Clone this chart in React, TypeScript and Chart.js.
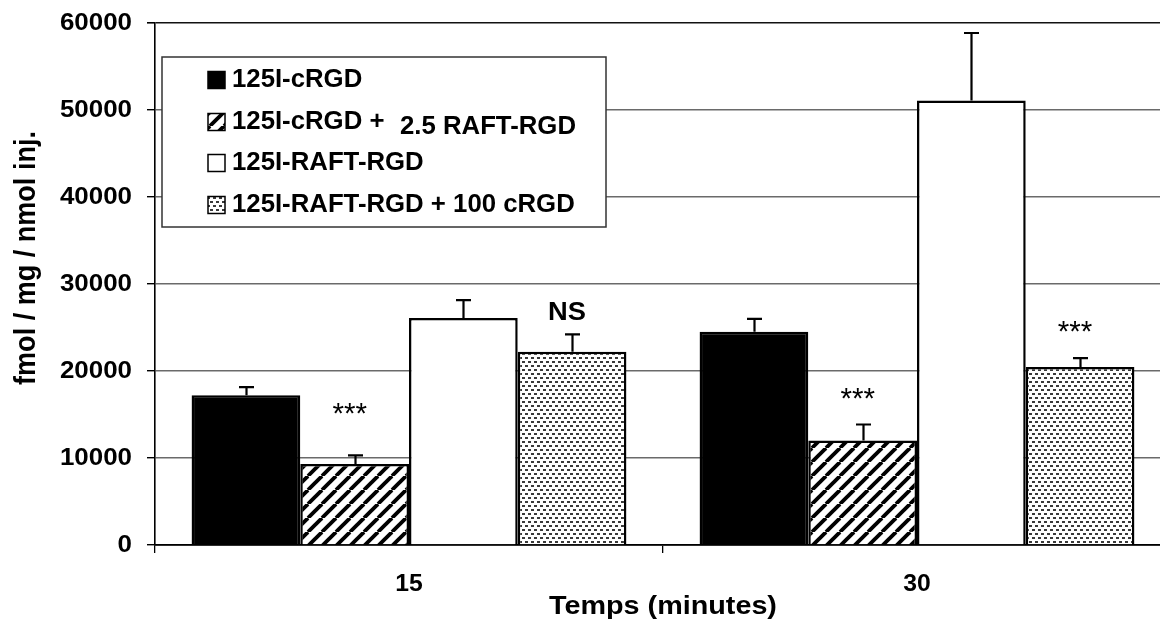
import React, { useEffect, useRef } from "react";
import { Chart, registerables } from "chart.js";

Chart.register(...registerables);

// ---------- data ----------
const CATEGORIES = ["15", "30"];
const SERIES_LABELS = [
  "125I-cRGD",
  "125I-cRGD + 2.5 RAFT-RGD",
  "125I-RAFT-RGD",
  "125I-RAFT-RGD + 100 cRGD",
];
const CRGD = [17200, 24500];
const CRGD_ERR = [950, 1500];
const CRGD_RAFT = [9300, 12000];
const CRGD_RAFT_ERR = [1000, 1850];
const RAFT = [26100, 51100];
const RAFT_ERR = [2050, 7750];
const RAFT_CRGD = [22200, 20450];
const RAFT_CRGD_ERR = [2000, 1030];
const Y_TICKS = [0, 10000, 20000, 30000, 40000, 50000, 60000];
const X_TITLE = "Temps (minutes)";
const Y_TITLE = "fmol / mg / nmol inj.";
const ANNOT_CAT = [0, 0, 1, 1];
const ANNOT_SERIES = [1, 3, 1, 3];
const ANNOT_TEXT = ["***", "NS", "***", "***"];
const ANNOT_AT = [14900, 26700, 16700, 24400];

const FONT = '"Liberation Sans", Arial, sans-serif';

function makeHatch(): CanvasPattern | string {
  const s = 14;
  const c = document.createElement("canvas");
  c.width = s;
  c.height = s;
  const g = c.getContext("2d");
  if (!g) return "#888";
  g.fillStyle = "#fff";
  g.fillRect(0, 0, s, s);
  g.strokeStyle = "#000";
  g.lineWidth = 3.8;
  for (const k of [-s, 0, s]) {
    g.beginPath();
    g.moveTo(k, s);
    g.lineTo(k + s, 0);
    g.stroke();
  }
  return g.createPattern(c, "repeat") || "#888";
}

function makeDots(): CanvasPattern | string {
  const w = 6;
  const h = 8;
  const c = document.createElement("canvas");
  c.width = w;
  c.height = h;
  const g = c.getContext("2d");
  if (!g) return "#bbb";
  g.fillStyle = "#fff";
  g.fillRect(0, 0, w, h);
  g.fillStyle = "#3a3a3a";
  g.fillRect(0, 1, 3, 2);
  g.fillRect(3, 5, 3, 2);
  return g.createPattern(c, "repeat") || "#bbb";
}

function drawText(
  ctx: CanvasRenderingContext2D,
  text: string,
  x: number,
  y: number,
  font: string,
  align: CanvasTextAlign,
  sx: number,
  sy = 1,
  rot = 0
) {
  ctx.save();
  ctx.translate(x, y);
  if (rot) ctx.rotate(rot);
  ctx.scale(sx, sy);
  ctx.font = font;
  ctx.textAlign = align;
  ctx.textBaseline = "middle";
  ctx.fillStyle = "#000";
  ctx.fillText(text, 0, 0);
  ctx.restore();
}

export default function App() {
  const ref = useRef<HTMLCanvasElement | null>(null);

  useEffect(() => {
    const canvas = ref.current;
    if (!canvas) return;
    const hatch = makeHatch();
    const dots = makeDots();
    const fills = ["#000", hatch, "#fff", dots];
    const values = [CRGD, CRGD_RAFT, RAFT, RAFT_CRGD];
    const errs = [CRGD_ERR, CRGD_RAFT_ERR, RAFT_ERR, RAFT_CRGD_ERR];

    const errorBars = {
      id: "errorBars",
      afterDatasetsDraw(chart: any) {
        const ctx = chart.ctx as CanvasRenderingContext2D;
        const ys = chart.scales.y;
        ctx.save();
        ctx.strokeStyle = "#000";
        ctx.lineWidth = 2.2;
        chart.data.datasets.forEach((ds: any, i: number) => {
          const meta = chart.getDatasetMeta(i);
          meta.data.forEach((bar: any, j: number) => {
            const top = ys.getPixelForValue(ds.data[j] + ds.errors[j]);
            const x = Math.round(bar.x) + 0.5;
            ctx.beginPath();
            ctx.moveTo(x, bar.y);
            ctx.lineTo(x, top);
            ctx.moveTo(x - 7.5, top);
            ctx.lineTo(x + 7.5, top);
            ctx.stroke();
          });
        });
        ctx.restore();
      },
    };

    const texts = {
      id: "texts",
      afterDraw(chart: any) {
        const ctx = chart.ctx as CanvasRenderingContext2D;
        const xs = chart.scales.x;
        const ys = chart.scales.y;
        // y tick labels
        Y_TICKS.forEach((v) => {
          drawText(ctx, String(v), 132, ys.getPixelForValue(v), `bold 24px ${FONT}`, "right", 1.08);
        });
        // x tick labels
        CATEGORIES.forEach((c, i) => {
          drawText(ctx, c, xs.getPixelForValue(i), 584, `bold 24px ${FONT}`, "center", 1.03);
        });
        // axis titles
        drawText(ctx, X_TITLE, (xs.left + xs.right) / 2, 607, `bold 25px ${FONT}`, "center", 1.15);
        drawText(ctx, Y_TITLE, 27, 258, `bold 26px ${FONT}`, "center", 1.04, 1.1, -Math.PI / 2);

        // annotations
        ANNOT_TEXT.forEach((t, k) => {
          const bar = chart.getDatasetMeta(ANNOT_SERIES[k]).data[ANNOT_CAT[k]];
          const bold = t === "NS";
          drawText(
            ctx,
            t,
            bar.x - 5,
            ys.getPixelForValue(ANNOT_AT[k]),
            `${bold ? "bold 26px" : "29px"} ${FONT}`,
            "center",
            bold ? 1.05 : 1.02
          );
        });

        // legend
        ctx.save();
        ctx.fillStyle = "#fff";
        ctx.fillRect(162, 57, 444, 170);
        ctx.strokeStyle = "#333";
        ctx.lineWidth = 1.5;
        ctx.strokeRect(162, 57, 444, 170);
        ctx.restore();
        const rows = [80, 122, 163, 205];
        chart.data.datasets.forEach((ds: any, i: number) => {
          const ry = rows[i];
          ctx.save();
          ctx.fillStyle = ds.backgroundColor;
          ctx.fillRect(208, ry - 8.5, 17, 17);
          ctx.strokeStyle = "#000";
          ctx.lineWidth = 1.5;
          ctx.strokeRect(208, ry - 8.5, 17, 17);
          ctx.restore();
          const label: string = ds.label;
          const split = label.indexOf("+ 2.5");
          const f = `bold 25px ${FONT}`;
          if (split >= 0) {
            drawText(ctx, label.slice(0, split + 1), 232, ry, f, "left", 1.03);
            drawText(ctx, label.slice(split + 2), 400, ry + 5, f, "left", 1.03);
          } else {
            drawText(ctx, label, 232, ry, f, "left", 1.03);
          }
        });
      },
    };

    const chart = new Chart(canvas, {
      type: "bar",
      data: {
        labels: CATEGORIES,
        datasets: SERIES_LABELS.map((label, i) => ({
          label,
          data: values[i],
          errors: errs[i],
          backgroundColor: fills[i] as any,
          borderColor: "#000",
          borderWidth: 2.5,
          categoryPercentage: 0.856,
          barPercentage: 1.0,
        })) as any,
      },
      options: {
        animation: false,
        responsive: false,
        maintainAspectRatio: false,
        layout: { padding: { top: 23, right: 9, left: 0, bottom: 0 } },
        plugins: {
          legend: { display: false },
          tooltip: { enabled: false },
          title: { display: false },
        },
        scales: {
          x: {
            offset: true,
            ticks: { display: false },
            grid: {
              offset: true,
              drawOnChartArea: false,
              drawTicks: true,
              tickLength: 8,
              tickColor: "#000",
              lineWidth: 1.3,
            },
            border: { display: true, color: "#000", width: 1.8 },
            afterFit: (scale: any) => {
              scale.height = 85;
            },
          },
          y: {
            min: 0,
            max: 60000,
            ticks: { display: false, stepSize: 10000 },
            grid: {
              drawOnChartArea: true,
              drawTicks: true,
              tickLength: 8,
              tickColor: "#000",
              color: (c: any) => (c.tick && c.tick.value === 60000 ? "#111" : "#6a6a6a"),
              lineWidth: (c: any) => (c.tick && c.tick.value === 60000 ? 1.6 : 1.4),
            },
            border: { display: true, color: "#000", width: 1.6 },
            afterFit: (scale: any) => {
              scale.width = 155;
            },
          },
        },
      },
      plugins: [errorBars, texts],
    } as any);

    return () => chart.destroy();
  }, []);

  return (
    <div
      style={{
        position: "fixed",
        left: 0,
        top: 0,
        width: 1160,
        height: 630,
        overflow: "hidden",
        background: "#fff",
      }}
    >
      <canvas ref={ref} width={1180} height={630} style={{ display: "block" }} />
    </div>
  );
}
